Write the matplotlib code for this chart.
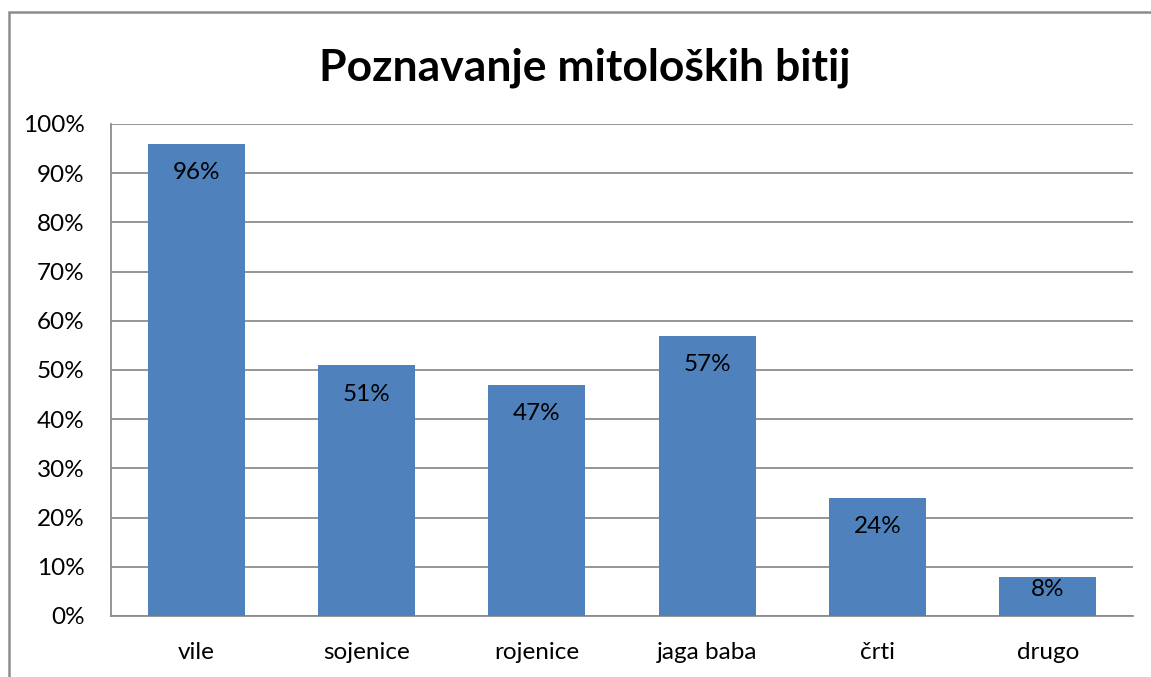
import matplotlib
matplotlib.use("Agg")
import matplotlib.pyplot as plt
from matplotlib.patches import Rectangle
from matplotlib.ticker import FuncFormatter, MultipleLocator

categories = ["vile", "sojenice", "rojenice", "jaga baba", "črti", "drugo"]
values = [96, 51, 47, 57, 24, 8]

plt.rcParams["font.family"] = ["Lato", "DejaVu Sans"]

W, H = 1151, 677
fig = plt.figure(figsize=(W / 100, H / 100), dpi=100)
ax = fig.add_axes([111 / W, 1 - 616 / H, (1133 - 111) / W, (616 - 124) / H])

x = range(len(categories))
bars = ax.bar(x, values, width=0.57, color="#4F81BD", zorder=3)
for rect, v in zip(bars, values):
    # label sits just inside the bar end; short bars push it up a bit
    ax.text(rect.get_x() + rect.get_width() / 2, v - min(5.9, v * 0.33), f"{v}%",
            ha="center", va="center", fontsize=17.5, color="black", zorder=4)

ax.set_xlim(-0.5, len(categories) - 0.5)
ax.set_ylim(0, 100)
ax.yaxis.set_major_locator(MultipleLocator(10))
ax.yaxis.set_major_formatter(FuncFormatter(lambda v, p: f"{int(v)}%"))
ax.set_xticks(list(x))
ax.set_xticklabels(categories)
ax.tick_params(axis="both", length=0, labelsize=17.5)
ax.tick_params(axis="y", pad=19)
ax.tick_params(axis="x", pad=19)
ax.grid(axis="y", color="#8c8c8c", linewidth=1.3, zorder=0)
for side in ("top", "right"):
    ax.spines[side].set_visible(False)
for side in ("left", "bottom"):
    ax.spines[side].set_color("#8c8c8c")
    ax.spines[side].set_linewidth(1.3)

fig.text(585 / W, 1 - 68 / H, "Poznavanje mitoloških bitij", ha="center",
         va="center", fontsize=32, fontweight="bold")

fig.patches.append(Rectangle((9 / W, -0.1), 1.2, 1.1 - 12 / H,
                             transform=fig.transFigure, fill=False,
                             edgecolor="#8c8c8c", linewidth=1.8))

fig.savefig("out.png", dpi=100)
